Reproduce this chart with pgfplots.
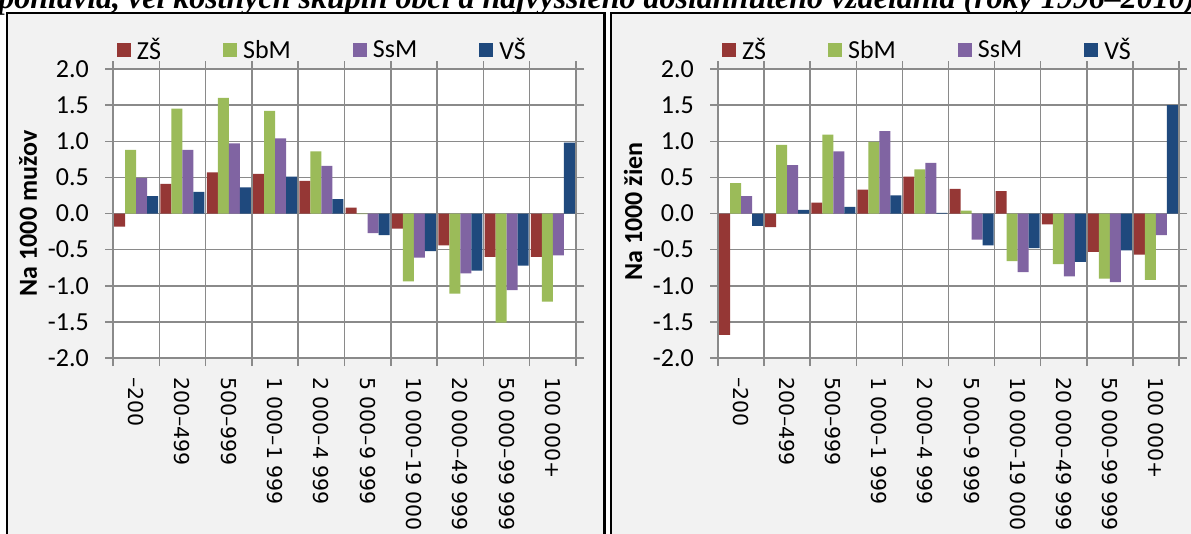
\documentclass[border=0pt]{standalone}
\usepackage{fontspec}
\setmainfont{Carlito}
\newfontfamily\dejavu{DejaVu Sans}
\newfontfamily\titlefont{Liberation Serif}
\usepackage{pgfplots}
\pgfplotsset{compat=1.18}
\definecolor{cZS}{HTML}{953735}
\definecolor{cSbM}{HTML}{9BBB59}
\definecolor{cSsM}{HTML}{8064A2}
\definecolor{cVS}{HTML}{1F497D}
\definecolor{gridg}{HTML}{8A8A8A}
\definecolor{panelbg}{HTML}{F2F2F2}
\pgfplotsset{
  sqleg/.style={legend image code/.code={\fill[##1] (0pt,-7pt) rectangle (14pt,7pt);}},
  panel/.style={
    ybar=0pt, bar width=11pt,
    scale only axis, height=289pt,
    xmin=0.5, xmax=10.5, ymin=-2, ymax=2,
    axis background/.style={fill=white},
    axis line style={draw=gridg, line width=1.5pt},
    xtick={0.5,1.5,...,10.5},
    xticklabels={,,,,,,,,,,},
    xmajorgrids, ymajorgrids,
    grid style={draw=gridg, line width=1.5pt},
    tick style={draw=gridg, line width=1.5pt},
    tick align=outside, major tick length=8pt,
    ytick={-2,-1.5,-1,-0.5,0,0.5,1,1.5,2},
    yticklabels={-2.0,-1.5,-1.0,-0.5,0.0,0.5,1.0,1.5,2.0},
    yticklabel style={font=\fontsize{26}{26}\selectfont, inner sep=0pt, xshift=-16pt},
    extra x ticks={1,2,3,4,5,6,7,8,9,10},
    extra x tick labels={–200,200–499,500–999,1 000–1 999,2 000–4 999,5 000–9 999,10 000–19 000,20 000–49 999,50 000–99 999,100 000+},
    extra x tick style={grid=none, major tick length=0pt},
    xticklabel style={font=\dejavu\fontsize{20.5}{20.5}\selectfont, rotate=-90, anchor=west, inner sep=0pt},
    xticklabel shift=19pt,
    legend columns=4,
    legend style={draw=none, fill=none, inner sep=0pt, outer sep=0pt,
      at={(axis description cs:0,1)}, anchor=west, xshift=4pt, yshift=19pt,
      font=\fontsize{26}{26}\selectfont,
      /tikz/every odd column/.style={column sep=4pt},
      /tikz/every even column/.style={column sep=60pt},
      cells={anchor=west}},
    every axis y label/.style={at={(axis description cs:0,0.5)}, xshift=-85pt, rotate=90, anchor=center},
    ylabel style={font=\bfseries\fontsize{26}{26}\selectfont},
  }
}
\begin{document}
\begin{tikzpicture}
\useasboundingbox (0pt,0pt) rectangle (1191pt,533pt);
\clip (0pt,0pt) rectangle (1191pt,533pt);
\node[font=\titlefont\bfseries\itshape\fontsize{32}{32}\selectfont, anchor=base] at (597pt,524pt) {pohlavia, veľkostných skupín obcí a najvyššieho dosiahnutého vzdelania (roky 1996–2010)};
\draw[line width=2.5pt, fill=panelbg] (7pt,520pt) rectangle (604.5pt,-20pt);
\draw[line width=2.5pt, fill=panelbg] (611pt,520pt) rectangle (1210pt,-20pt);
\begin{axis}[panel, width=463pt, at={(113pt,175pt)}, ylabel={Na 1000 mužov}]
\addplot[fill=cZS, draw=none, sqleg] coordinates {(1,-0.18) (2,0.41) (3,0.57) (4,0.55) (5,0.45) (6,0.08) (7,-0.21) (8,-0.44) (9,-0.60) (10,-0.60)};
\addplot[fill=cSbM, draw=none, sqleg] coordinates {(1,0.88) (2,1.45) (3,1.60) (4,1.42) (5,0.86) (6,-0.01) (7,-0.94) (8,-1.11) (9,-1.51) (10,-1.22)};
\addplot[fill=cSsM, draw=none, sqleg] coordinates {(1,0.49) (2,0.88) (3,0.97) (4,1.04) (5,0.66) (6,-0.27) (7,-0.61) (8,-0.83) (9,-1.06) (10,-0.58)};
\addplot[fill=cVS, draw=none, sqleg] coordinates {(1,0.24) (2,0.30) (3,0.36) (4,0.51) (5,0.20) (6,-0.30) (7,-0.52) (8,-0.79) (9,-0.72) (10,0.98)};
\legend{ZŠ,SbM,SsM,VŠ}
\end{axis}
\begin{axis}[panel, width=461pt, at={(718pt,175pt)}, ylabel={Na 1000 žien}, every axis y label/.append style={xshift=2pt}]
\addplot[fill=cZS, draw=none, sqleg] coordinates {(1,-1.68) (2,-0.19) (3,0.15) (4,0.33) (5,0.51) (6,0.34) (7,0.31) (8,-0.15) (9,-0.53) (10,-0.57)};
\addplot[fill=cSbM, draw=none, sqleg] coordinates {(1,0.42) (2,0.95) (3,1.09) (4,0.99) (5,0.61) (6,0.04) (7,-0.66) (8,-0.70) (9,-0.90) (10,-0.92)};
\addplot[fill=cSsM, draw=none, sqleg] coordinates {(1,0.24) (2,0.67) (3,0.86) (4,1.14) (5,0.70) (6,-0.36) (7,-0.81) (8,-0.87) (9,-0.95) (10,-0.30)};
\addplot[fill=cVS, draw=none, sqleg] coordinates {(1,-0.17) (2,0.05) (3,0.09) (4,0.25) (5,0.01) (6,-0.44) (7,-0.48) (8,-0.67) (9,-0.51) (10,1.50)};
\legend{ZŠ,SbM,SsM,VŠ}
\end{axis}
\end{tikzpicture}
\end{document}
